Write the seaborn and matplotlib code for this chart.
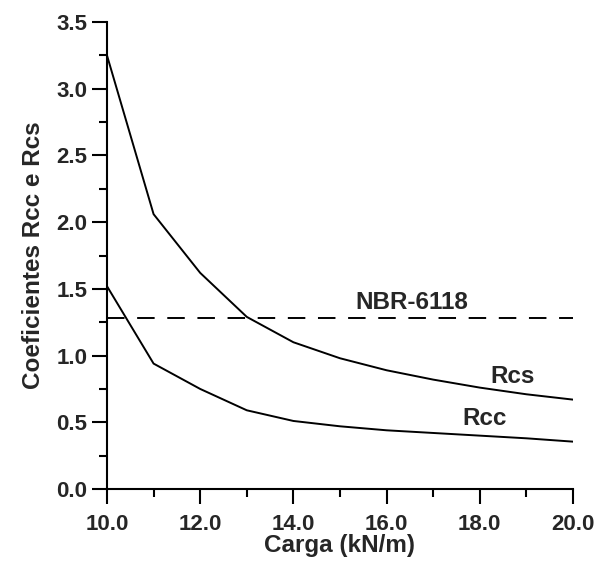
import numpy as np
import pandas as pd
import seaborn as sns
import matplotlib.pyplot as plt
from matplotlib.ticker import MultipleLocator

### Data
carga = [10, 11, 12, 13, 14, 15, 16, 17, 18, 19, 20]
rcs = [3.25, 2.06, 1.62, 1.29, 1.10, 0.98, 0.89, 0.82, 0.76, 0.71, 0.67]
rcc = [1.52, 0.94, 0.75, 0.59, 0.51, 0.47, 0.44, 0.42, 0.40, 0.38, 0.355]
nbr_limit = 1.28

df = pd.DataFrame({'carga': carga, 'Rcs': rcs, 'Rcc': rcc})

### Style
sns.set_style("ticks")
plt.rcParams['font.family'] = ['Liberation Sans', 'DejaVu Sans']
plt.rcParams['font.weight'] = 'bold'

fig = plt.figure(figsize=(5.96, 5.65), dpi=100)
ax = fig.add_axes([0.1795, 0.1345, 0.7819, 0.8265])

sns.lineplot(data=df, x='carga', y='Rcs', ax=ax, color='black', linewidth=1.4)
sns.lineplot(data=df, x='carga', y='Rcc', ax=ax, color='black', linewidth=1.4)
ax.axhline(nbr_limit, color='black', linewidth=1.4, dashes=(9, 6.5))

# curve labels
ax.text(16.55, 1.40, 'NBR-6118', ha='center', va='center', fontsize=17.5, fontweight='bold')
ax.text(18.7, 0.84, 'Rcs', ha='center', va='center', fontsize=17.5, fontweight='bold')
ax.text(18.1, 0.53, 'Rcc', ha='center', va='center', fontsize=17.5, fontweight='bold')

ax.set_xlim(10, 20)
ax.set_ylim(0, 3.5)
ax.xaxis.set_major_locator(MultipleLocator(2))
ax.xaxis.set_minor_locator(MultipleLocator(1))
ax.yaxis.set_major_locator(MultipleLocator(0.5))
ax.yaxis.set_minor_locator(MultipleLocator(0.25))
ax.xaxis.set_major_formatter(lambda v, p: f'{v:.1f}')
ax.yaxis.set_major_formatter(lambda v, p: f'{v:.1f}')

ax.tick_params(which='major', length=11, width=1.5, color='black', labelsize=16)
ax.tick_params(axis='x', which='major', pad=7)
ax.tick_params(axis='y', which='major', pad=3)
ax.tick_params(which='minor', length=6, width=1.5, color='black')
for lab in ax.get_xticklabels() + ax.get_yticklabels():
    lab.set_fontweight('bold')

for s in ['top', 'right']:
    ax.spines[s].set_visible(False)
for s in ['left', 'bottom']:
    ax.spines[s].set_linewidth(1.5)
    ax.spines[s].set_color('black')

ax.set_xlabel('Carga (kN/m)', fontsize=17.5, fontweight='bold', labelpad=-1)
ax.set_ylabel('Coeficientes Rcc e Rcs', fontsize=17.5, fontweight='bold', labelpad=8)

fig.savefig('out.png', dpi=100)
